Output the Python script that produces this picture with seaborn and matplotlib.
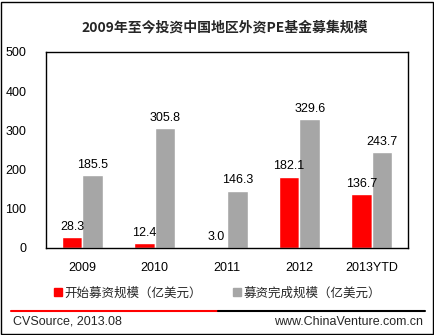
import matplotlib
matplotlib.use("Agg")
import matplotlib.pyplot as plt
import seaborn as sns
import pandas as pd
from matplotlib.lines import Line2D
from matplotlib.patches import Rectangle

categories = ["2009", "2010", "2011", "2012", "2013YTD"]
start_vals = [28.3, 12.4, 3.0, 182.1, 136.7]
done_vals = [185.5, 305.8, 146.3, 329.6, 243.7]
series_names = ["开始募资规模（亿美元）", "募资完成规模（亿美元）"]
title = "2009年至今投资中国地区外资PE基金募集规模"
yticks = [0, 100, 200, 300, 400, 500]

sns.set_theme(style="white")
plt.rcParams['font.family'] = ['Liberation Sans', 'Noto Sans CJK SC', 'DejaVu Sans']

df = pd.DataFrame({
    "cat": categories * 2,
    "val": start_vals + done_vals,
    "series": [series_names[0]] * len(categories) + [series_names[1]] * len(categories),
})

fig = plt.figure(figsize=(4.35, 3.35), dpi=100)
ax = fig.add_axes([46/435, 1 - 248/335, 362/435, 196/335])
sns.barplot(data=df, x="cat", y="val", hue="series", palette=["#FF0000", "#A6A6A6"],
            width=0.57, gap=0, ax=ax, legend=False, saturation=1)
for c in ax.containers:
    ax.bar_label(c, fmt="%.1f", padding=3, fontsize=9, color="black")

ax.set_ylim(0, 500)
ax.set_yticks(yticks)
ax.set_xlabel("")
ax.set_ylabel("")
ax.tick_params(axis="y", length=0, pad=14, labelsize=9, colors="black")
ax.tick_params(axis="x", length=0, pad=10, labelsize=9, colors="black")
for s in ax.spines.values():
    s.set_visible(True)
    s.set_color("black")
    s.set_linewidth(1)

fig.text(225/435, 1 - 27/335, title, ha="center", va="center", fontsize=10,
         fontweight="bold", family=['Noto Sans CJK SC', 'DejaVu Sans'])

handles = [Rectangle((0, 0), 1, 1, color="#FF0000"), Rectangle((0, 0), 1, 1, color="#A6A6A6")]
fig.legend(handles, series_names, loc="center", bbox_to_anchor=(0.5, 1 - 293/335), ncol=2,
           frameon=False, fontsize=9, handlelength=0.6, handleheight=0.6, handletextpad=0.2,
           columnspacing=2.5, prop={'family': ['Noto Sans CJK SC', 'DejaVu Sans'], 'size': 9})

y_line = 1 - 311/335
fig.add_artist(Line2D([11/435, 218/435], [y_line, y_line], color="#FF0000", lw=1.5))
fig.add_artist(Line2D([218/435, 425/435], [y_line, y_line], color="black", lw=1.5))
fig.text(13/435, 1 - 322/335, "CVSource, 2013.08", ha="left", va="center", fontsize=9)
fig.text(423/435, 1 - 322/335, "www.ChinaVenture.com.cn", ha="right", va="center", fontsize=9)

fig.add_artist(Rectangle((1/435, 1/335), 432/435, 332/335, fill=False, edgecolor="black",
                         lw=1, transform=fig.transFigure))

fig.savefig("out.png", dpi=100)
